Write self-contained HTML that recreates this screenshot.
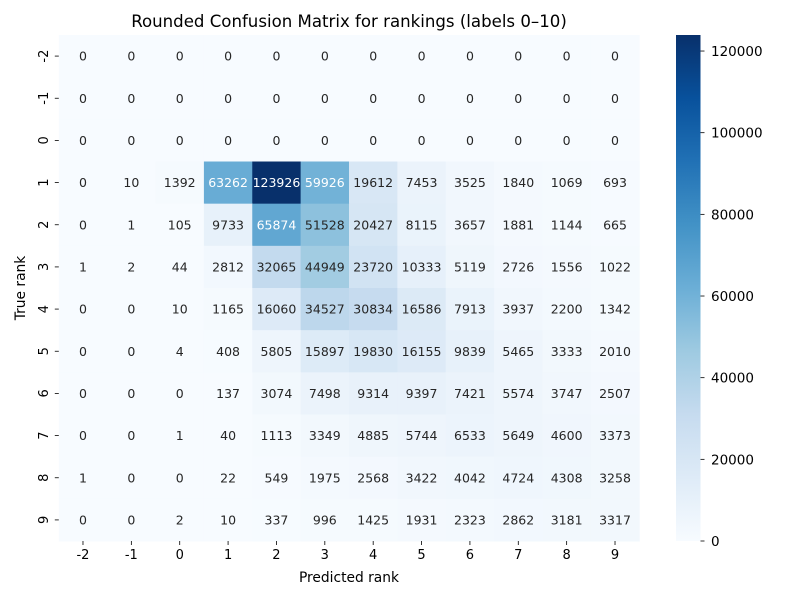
<!DOCTYPE html>
<html><head><meta charset="utf-8"><style>body{margin:0;background:#fff}svg{display:block;font-family:"DejaVu Sans","Liberation Sans",sans-serif}</style></head>
<body>
<svg id="chart" width="800" height="600" xmlns="http://www.w3.org/2000/svg">
<defs><linearGradient id="cbg" x1="0" y1="1" x2="0" y2="0">
<stop offset="0" stop-color="#f7fbff"/><stop offset="0.125" stop-color="#deebf7"/><stop offset="0.25" stop-color="#c6dbef"/><stop offset="0.375" stop-color="#9ecae1"/><stop offset="0.5" stop-color="#6baed6"/><stop offset="0.625" stop-color="#4292c6"/><stop offset="0.75" stop-color="#2171b5"/><stop offset="0.875" stop-color="#08519c"/><stop offset="1" stop-color="#08306b"/></linearGradient></defs>
<g id="cells"></g>
<text x="349" y="27" font-size="16.6" text-anchor="middle">Rounded Confusion Matrix for rankings (labels 0–10)</text>
<text x="349" y="582" font-size="13.8" text-anchor="middle">Predicted rank</text>
<text transform="translate(25,288) rotate(-90)" font-size="13.8" text-anchor="middle">True rank</text>
<rect x="676" y="35" width="24.5" height="506" fill="url(#cbg)"/>
<g id="cbticks"></g>
</svg>
<script>
const xLabels=["-2","-1","0","1","2","3","4","5","6","7","8","9"];
const yLabels=["-2","-1","0","1","2","3","4","5","6","7","8","9"];
const row0=[0,0,0,0,0,0,0,0,0,0,0,0];
const row1=[0,0,0,0,0,0,0,0,0,0,0,0];
const row2=[0,0,0,0,0,0,0,0,0,0,0,0];
const row3=[0,10,1392,63262,123926,59926,19612,7453,3525,1840,1069,693];
const row4=[0,1,105,9733,65874,51528,20427,8115,3657,1881,1144,665];
const row5=[1,2,44,2812,32065,44949,23720,10333,5119,2726,1556,1022];
const row6=[0,0,10,1165,16060,34527,30834,16586,7913,3937,2200,1342];
const row7=[0,0,4,408,5805,15897,19830,16155,9839,5465,3333,2010];
const row8=[0,0,0,137,3074,7498,9314,9397,7421,5574,3747,2507];
const row9=[0,0,1,40,1113,3349,4885,5744,6533,5649,4600,3373];
const row10=[1,0,0,22,549,1975,2568,3422,4042,4724,4308,3258];
const row11=[0,0,2,10,337,996,1425,1931,2323,2862,3181,3317];
const cbTicks=[0,20000,40000,60000,80000,100000,120000];
const matrix=[row0,row1,row2,row3,row4,row5,row6,row7,row8,row9,row10,row11];
const NS="http://www.w3.org/2000/svg";
const L=58.8,R=639.2,T=35,B=541;
const cw=(R-L)/xLabels.length,ch=(B-T)/yLabels.length;
let vmax=0;matrix.forEach(r=>r.forEach(v=>{if(v>vmax)vmax=v;}));
const stops=["#f7fbff","#deebf7","#c6dbef","#9ecae1","#6baed6","#4292c6","#2171b5","#08519c","#08306b"].map(h=>[parseInt(h.slice(1,3),16),parseInt(h.slice(3,5),16),parseInt(h.slice(5,7),16)]);
function color(t){t=Math.max(0,Math.min(1,t))*8;const i=Math.min(7,Math.floor(t)),f=t-i;return stops[i].map((c,k)=>Math.round(c+(stops[i+1][k]-c)*f));}
function lum(c){const l=c.map(v=>{v/=255;return v<=0.03928?v/12.92:Math.pow((v+0.055)/1.055,2.4)});return 0.2126*l[0]+0.7152*l[1]+0.0722*l[2];}
const g=document.getElementById('cells');
function el(tag,attrs,parent){const e=document.createElementNS(NS,tag);for(const k in attrs)e.setAttribute(k,attrs[k]);parent.appendChild(e);return e;}
matrix.forEach((r,i)=>r.forEach((v,j)=>{
  const c=color(v/vmax);
  const rect=el('rect',{x:L+j*cw,y:T+i*ch,width:cw+0.5,height:ch+0.5,fill:`rgb(${c})`},g);
  
  
  const t=el('text',{x:L+(j+0.5)*cw,y:T+(i+0.5)*ch+4.5,'font-size':12.5,'text-anchor':'middle',fill:lum(c)>0.408?'#262626':'#ffffff'},g);
  
  
  t.textContent=v;
}));
xLabels.forEach((lab,j)=>{
  const x=L+(j+0.5)*cw;
  el('line',{x1:x,x2:x,y1:B,y2:B+4,stroke:'#000','stroke-width':0.8},g);
  const t=el('text',{x:x,y:B+18,'font-size':13,'text-anchor':'middle'},g);
  
  
  t.textContent=lab;
});
yLabels.forEach((lab,i)=>{
  const y=T+(i+0.5)*ch;
  el('line',{x1:L-4,x2:L,y1:y,y2:y,stroke:'#000','stroke-width':0.8},g);
  const t=el('text',{transform:`translate(${L-11},${y}) rotate(-90)`,'font-size':13,'text-anchor':'middle'},g);
  
  
  t.textContent=lab;
});
const cg=document.getElementById('cbticks');
cbTicks.forEach(v=>{
  const y=B-(v/vmax)*(B-T);
  el('line',{x1:700.5,x2:704.5,y1:y,y2:y,stroke:'#000','stroke-width':0.8},cg);
  const t=el('text',{x:711,y:y+5,'font-size':13.5},cg);
  
  
  t.textContent=v;
});
</script>
</body></html>
